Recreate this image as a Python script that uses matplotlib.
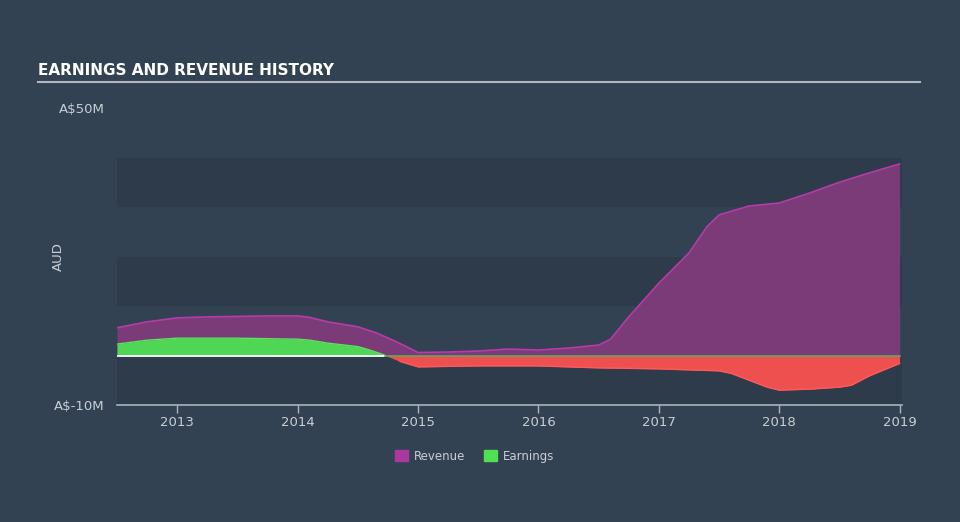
import matplotlib
matplotlib.use("Agg")
import matplotlib.pyplot as plt
import numpy as np
from matplotlib.patches import Patch
from matplotlib import font_manager

# values (A$ millions)
rev_x = [2012.5, 2012.75, 2013.0, 2013.25, 2013.5, 2013.75, 2014.0, 2014.1, 2014.25, 2014.5,
         2014.65, 2014.8, 2014.92, 2015.0, 2015.25, 2015.5, 2015.75, 2016.0, 2016.25, 2016.5,
         2016.6, 2016.75, 2017.0, 2017.25, 2017.4, 2017.5, 2017.75, 2018.0, 2018.25, 2018.5,
         2018.75, 2019.0]
revenue = [5.6, 6.8, 7.6, 7.8, 7.9, 8.0, 8.0, 7.7, 6.8, 5.8,
           4.6, 3.0, 1.6, 0.6, 0.7, 0.9, 1.3, 1.1, 1.5, 2.1,
           3.3, 7.8, 14.6, 20.7, 26.0, 28.4, 30.2, 30.8, 32.8, 35.0,
           36.9, 38.7]

earn_x = [2012.5, 2012.75, 2013.0, 2013.5, 2014.0, 2014.1, 2014.25, 2014.5, 2014.6,
          2014.72, 2014.85, 2015.0, 2015.5, 2016.0, 2016.5, 2017.0, 2017.5, 2017.6,
          2017.75, 2017.9, 2018.0, 2018.25, 2018.5, 2018.6, 2018.75, 2019.0]
earnings = [2.3, 3.1, 3.5, 3.5, 3.3, 3.1, 2.5, 1.8, 1.1,
            0.1, -1.2, -2.3, -2.1, -2.1, -2.5, -2.7, -3.1, -3.6,
            -5.0, -6.4, -7.0, -6.8, -6.4, -6.0, -4.1, -1.6]

years = [2013, 2014, 2015, 2016, 2017, 2018, 2019]
ytick_vals = [-10, 50]
ytick_labels = ["A$-10M", "A$50M"]

bg = "#334252"
band = "#2e3b4a"
txt = "#c9ced4"

# a narrow face for the title if one is installed
names = {f.name for f in font_manager.fontManager.ttflist}
title_family = "Liberation Sans Narrow" if "Liberation Sans Narrow" in names else "DejaVu Sans"
title_size = 13 if title_family == "Liberation Sans Narrow" else 11

fig = plt.figure(figsize=(9.6, 5.22), dpi=100, facecolor=bg)
ax = fig.add_axes([117 / 960, 117 / 522, 785 / 960, 297 / 522])
ax.set_facecolor("none")

# alternating bands behind the plot
for lo in (-10, 10, 30):
    ax.axhspan(lo, lo + 10, color=band, lw=0, zorder=0)

ex = np.array(earn_x)
ey = np.array(earnings)

ax.fill_between(rev_x, 0, revenue, color="#7b3a78", lw=0, zorder=2)
ax.plot(rev_x, revenue, color="#b73caa", lw=1.2, zorder=3)

ax.fill_between(ex, 0, ey, where=ey >= 0, interpolate=True, color="#50d655", lw=0, zorder=4)
ax.fill_between(ex, 0, ey, where=ey <= 0, interpolate=True, color="#ee5050", lw=0, zorder=4)
ax.plot(ex, np.where(ey >= 0, ey, np.nan), color="#5fe060", lw=1, zorder=5)
ax.plot(ex, np.where(ey <= 0, ey, np.nan), color="#ff5a5a", lw=1, zorder=5)

# zero line: white while earnings are positive, green after
i = int(np.argmax(ey < 0))
cross = ex[i - 1] + (ex[i] - ex[i - 1]) * ey[i - 1] / (ey[i - 1] - ey[i])
ax.plot([2012.5, cross], [0, 0], color="white", lw=1.3, zorder=6)
ax.plot([cross, 2019.0], [0, 0], color="#62a85a", lw=1.2, zorder=6)

ax.set_xlim(2012.5, 2019.02)
ax.set_ylim(-10, 50)

for s in ("top", "right", "left"):
    ax.spines[s].set_visible(False)
ax.spines["bottom"].set_color("#a9b4c0")
ax.spines["bottom"].set_linewidth(1.2)
ax.spines["bottom"].set_zorder(7)

ax.set_xticks(years)
ax.set_xticklabels([str(y) for y in years])
ax.tick_params(axis="x", colors="#a9b4c0", labelcolor=txt, length=6, width=1, labelsize=9.5, pad=2)
ax.set_yticks(ytick_vals)
ax.set_yticklabels(ytick_labels)
ax.tick_params(axis="y", length=0, labelcolor=txt, labelsize=9.5, pad=9)
ax.set_ylabel("AUD", color=txt, fontsize=9.5)
ax.yaxis.set_label_coords(-0.066, 0.5)

# title and rule
fig.text(38 / 960, 1 - 75 / 522, "EARNINGS AND REVENUE HISTORY", color="white",
         fontsize=title_size, fontweight="bold", family=[title_family], va="baseline")
fig.add_artist(plt.Line2D([38 / 960, 920 / 960], [1 - 82 / 522, 1 - 82 / 522],
                          color="#b0b6bc", lw=1.5))

handles = [Patch(color="#a9399f", label="Revenue"), Patch(color="#4fe055", label="Earnings")]
leg = fig.legend(handles=handles, loc="center", bbox_to_anchor=(475 / 960, 1 - 456 / 522),
                 ncol=2, frameon=False, fontsize=8.5, handlelength=1.1, handleheight=1.1,
                 columnspacing=1.6, handletextpad=0.5)
for t in leg.get_texts():
    t.set_color(txt)

fig.savefig("out.png", dpi=100, facecolor=bg)
